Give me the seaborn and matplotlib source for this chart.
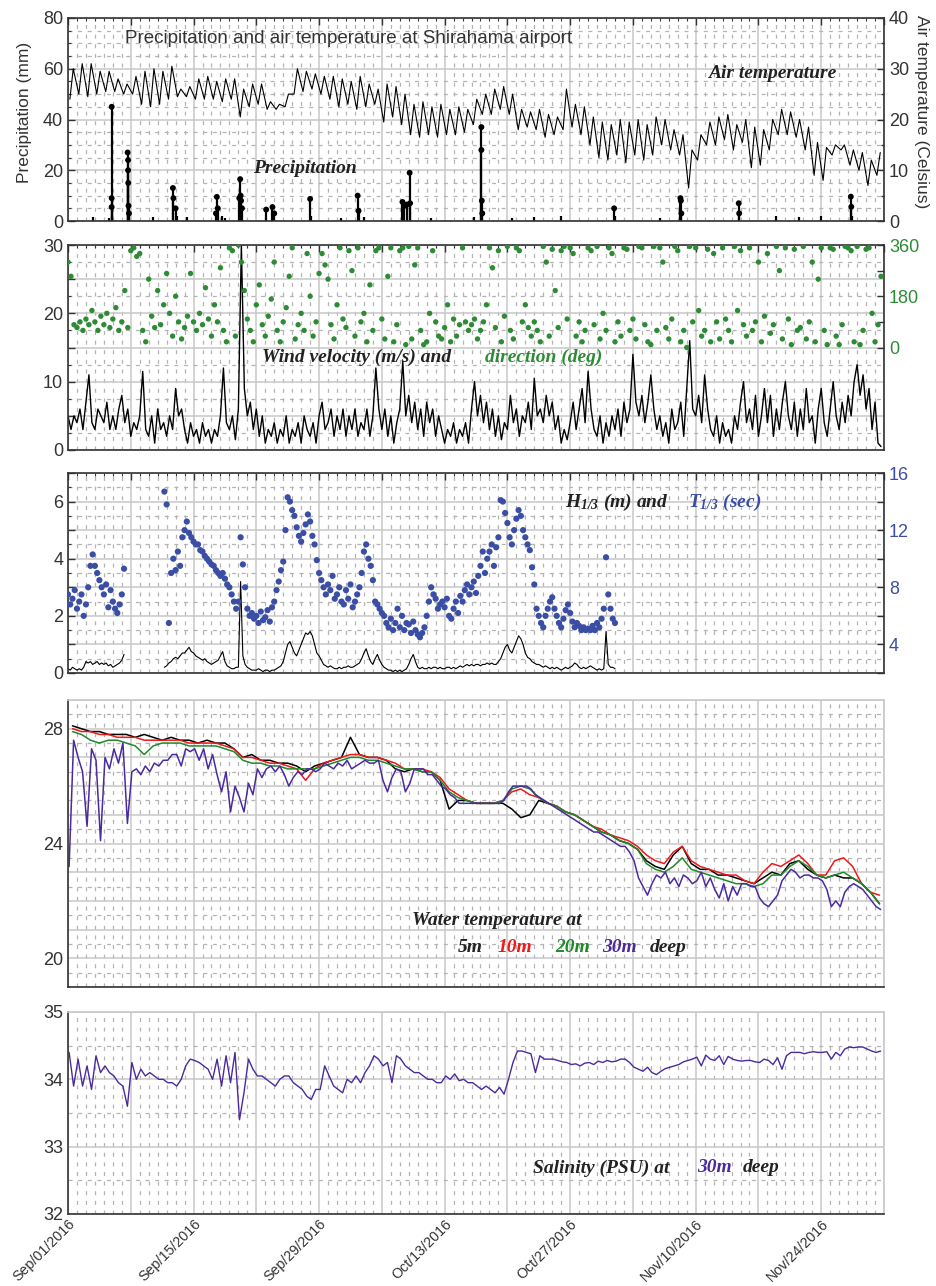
import numpy as np
import pandas as pd
import seaborn as sns
import matplotlib.pyplot as plt
import matplotlib.dates as mdates
from matplotlib.ticker import MultipleLocator, FuncFormatter, FixedLocator

sns.set_theme(style="white")
plt.rcParams['font.family'] = ['Liberation Sans', 'DejaVu Sans']
plt.rcParams['mathtext.fontset'] = 'custom'
plt.rcParams['mathtext.it'] = 'Liberation Serif:italic:bold'
plt.rcParams['mathtext.rm'] = 'Liberation Serif:italic:bold'

# ---------------- data ----------------
start = pd.Timestamp("2016-09-01")
n_days = 91

# air temperature, daily max / min (Celsius)
air_tmax = [30, 31, 31, 29.5, 29.5, 28, 27, 28.5, 29.5, 30,
            29.5, 30.5, 26, 26.5, 28, 28.5, 27.5, 28, 28, 26,
            27, 27, 23.5, 23, 25, 30, 29.5, 29, 28.5, 28.5,
            28, 27.5, 28.5, 27, 26, 27, 26.5, 25, 23, 23.5,
            22.5, 23, 22, 22.5, 22, 24, 25, 26, 26.5, 25,
            22, 21.5, 22, 21, 20.5, 26, 23, 22.5, 20.5, 19.5,
            19, 20, 19.5, 20, 19, 20.5, 20, 18, 17, 14,
            17, 19.5, 20.5, 21, 19, 20, 18.5, 18, 20, 22,
            21.5, 20, 18.5, 15.5, 14.5, 15, 15, 14, 13.5, 12,
            13.5]
air_tmin = [24, 25, 24.5, 25, 25.5, 25.5, 25, 25, 23, 22.5,
            23, 24, 24.5, 24.5, 24, 24, 24, 23.5, 24, 20.5,
            22.5, 23, 22, 22, 22.5, 25, 25.5, 26, 25, 24,
            22.5, 23, 22, 22.5, 23, 19.5, 20.5, 19, 17, 16.5,
            17, 16.5, 17, 17, 17.5, 19, 21, 21, 22, 21,
            18, 18.5, 18, 16.5, 17, 18, 18.5, 17, 15, 12.5,
            12, 13, 11.5, 13, 12, 13, 15, 14, 13, 6.5,
            12, 15, 15, 16, 14, 15.5, 10.5, 11, 14, 17,
            17, 16.5, 14, 9, 8, 13, 14, 11, 10, 7,
            9]

# precipitation readings: day since Sep 1, mm
precip_day = [2.8, 4.6, 4.87, 4.87, 4.87, 4.9, 6.65, 6.7, 6.7, 6.72, 6.75, 6.8,
              9.5, 11.7, 11.75, 12.0, 12.2, 13.3, 16.5, 16.6, 16.7, 17.2, 17.5,
              19.1, 19.2, 19.25, 19.3, 19.4, 22.1, 22.8, 23.0, 27.0, 27.1, 30.5,
              32.3, 32.4, 33.0, 37.3, 37.5, 37.8, 38.1, 38.15, 40.5, 45.3, 46.1,
              46.1, 46.15, 46.2, 49.5, 52.0, 55.0, 60.9, 61.0, 66.0, 68.3, 68.35,
              68.4, 74.8, 74.85, 79.0, 81.5, 84.0, 87.3, 87.35, 87.4]
precip_mm = [1.5, 1, 45, 9, 5.5, 2, 27, 24, 20, 15, 6, 3,
             1.5, 13, 9, 5, 2, 1.5, 3, 9.5, 5, 2, 1,
             9, 16.5, 10, 8, 5, 4.5, 5.5, 3, 8.7, 2, 1,
             10, 4, 1.5, 7.5, 6, 6.5, 19, 7, 1, 1.5, 37,
             28, 8, 3, 1, 1.5, 2, 5, 2, 1, 9, 8,
             3, 7, 3, 2, 1.5, 2, 9.6, 5.6, 2]

# wind velocity (m/s), three readings a day
wind_speed = [5, 3, 5, 4, 6, 3, 7, 11, 4, 3, 6, 5, 4, 7, 3, 5, 3, 6, 8, 4, 6, 2, 4, 3, 5, 11.5, 3, 2, 5, 1,
              6, 3, 4, 2, 5, 3, 9, 5, 6, 3, 1, 4, 2, 3, 1, 4, 2, 3, 1, 3, 2, 5, 12, 4, 3, 5, 1.5, 6, 30, 9,
              5, 7, 3, 6, 2, 5, 1, 3, 2, 4, 1, 3, 2, 5, 1, 3, 2, 4, 1, 5, 3, 2, 4, 1, 5, 7, 3, 4, 6, 2,
              5, 3, 6, 2, 5, 3, 6, 2, 4, 3, 6, 2, 5, 12, 6, 3, 6, 2, 5, 1, 4, 6, 13, 5, 8, 4, 7, 3, 6, 2,
              7, 4, 6, 2, 5, 3, 1, 3, 2, 4, 1, 3, 2, 4, 1, 6, 10, 5, 8, 4, 7, 3, 6, 2, 5, 1.5, 4, 3, 8, 4,
              6, 2, 5, 4, 7, 3, 10.5, 5, 6, 4, 8, 5, 7, 3, 5, 1, 3, 1.5, 4, 7, 3, 6, 9, 4, 11.5, 6, 3, 2, 5, 1,
              4, 2, 5, 3, 6, 2, 7, 4, 6, 14, 7, 5, 8, 4, 7, 11, 6, 3, 5, 2, 4, 1, 6, 3, 4, 7, 2, 9, 16, 6,
              5, 8, 4, 11, 6, 3, 2, 5, 1, 4, 2, 3, 1, 5, 3, 7, 10, 4, 6, 3, 8, 2, 5, 9, 4, 8, 2, 6, 3, 7,
              10, 5, 3, 7, 2, 6, 3, 9, 4, 5, 1, 6, 9, 4, 2, 6, 10, 5, 3, 7, 4, 8, 5, 10, 12.5, 8, 11, 6, 9, 3,
              7, 1, 0.5]
# wind direction (deg), three readings a day
wind_dir = [300, 250, 80, 70, 90, 60, 100, 80, 130, 90, 60, 110, 80, 120, 70, 100, 140, 60, 90, 200, 70,
            340, 350, 320, 330, 60, 20, 240, 110, 70,
            200, 80, 150, 260, 120, 40, 180, 90, 30, 70, 110, 260, 90, 60, 120, 80, 210, 100, 40, 150, 90,
            280, 60, 20, 350, 340, 40, 360, 300, 200,
            100, 60, 20, 150, 220, 80, 40, 110, 170, 300, 60, 20, 90, 140, 250, 350, 30, 80, 120, 60, 330,
            180, 40, 90, 260, 330, 290, 240, 80, 30,
            150, 350, 100, 70, 340, 270, 40, 350, 90, 120, 20, 220, 60, 340, 350, 100, 30, 250, 350, 20, 80,
            340, 350, 10, 355, 30, 290, 350, 60, 10,
            20, 120, 340, 90, 40, 30, 70, 150, 20, 100, 40, 80, 350, 90, 60, 80, 100, 30, 60, 90, 150,
            350, 280, 70, 340, 20, 110, 355, 60, 30,
            350, 340, 90, 150, 70, 40, 90, 60, 20, 355, 300, 40, 345, 200, 70, 340, 355, 100, 350, 330, 40,
            90, 20, 60, 350, 340, 80, 355, 30, 120,
            60, 350, 330, 20, 90, 40, 350, 345, 60, 100, 30, 355, 350, 80, 20, 10, 355, 60, 350, 300, 70,
            30, 100, 355, 340, 20, 60, 0, 355, 90,
            350, 130, 40, 60, 345, 20, 330, 90, 30, 350, 100, 60, 20, 355, 130, 340, 80, 40, 350, 60, 90,
            300, 20, 110, 330, 50, 80, 355, 270, 30,
            350, 100, 10, 345, 60, 70, 355, 30, 90, 300, 20, 240, 350, 60, 10, 350, 345, 40, 10, 80, 355,
            350, 340, 20, 355, 10, 60, 345, 350, 120,
            20, 80, 250]

# significant wave height (m) and period (s), every 6 h, two records
wave_a_H = [0.15, 0.1, 0.2, 0.15, 0.1, 0.15, 0.1, 0.2, 0.4, 0.35, 0.4, 0.3, 0.35, 0.4, 0.3, 0.35,
            0.3, 0.35, 0.25, 0.3, 0.2, 0.25, 0.3, 0.35, 0.45, 0.65]
wave_a_T = [7.5, 6.8, 7.2, 7.8, 6.5, 7.0, 7.5, 6.0, 6.8, 8.0, 9.5, 10.3, 9.5, 9.0, 8.5, 8.0,
            7.5, 8.2, 6.6, 7.8, 7.0, 6.5, 6.2, 6.8, 7.5, 9.3]
wave_b_H = [0.2,
            0.25, 0.35, 0.4, 0.5, 0.55, 0.5, 0.6, 0.7, 0.7, 0.8, 0.9, 0.75, 0.7, 0.6, 0.55, 0.5,
            0.45, 0.5, 0.4, 0.35, 0.3, 0.35, 0.4, 0.45, 0.6, 0.75, 0.4, 0.25, 0.2, 0.15, 0.15, 0.2,
            0.2, 3.2, 0.6, 0.3, 0.2, 0.15, 0.1, 0.1, 0.1, 0.15, 0.1, 0.05, 0.1, 0.1, 0.05, 0.1,
            0.1, 0.15, 0.2, 0.25, 0.4, 0.7, 1.0, 1.1, 0.9, 0.7, 0.6, 0.8, 1.0, 1.2, 1.4, 1.35,
            1.45, 1.3, 1.0, 0.7, 0.6, 0.45, 0.3, 0.25, 0.2, 0.25, 0.2, 0.15, 0.15, 0.2, 0.15, 0.2,
            0.2, 0.25, 0.2, 0.2, 0.25, 0.3, 0.35, 0.5, 0.7, 0.85, 0.6, 0.4, 0.3, 0.5, 0.65, 0.45,
            0.3, 0.2, 0.15, 0.1, 0.1, 0.05, 0.1, 0.05, 0.1, 0.05, 0.1, 0.15, 0.3, 0.5, 0.65, 0.4,
            0.2, 0.15, 0.2, 0.15, 0.15, 0.2, 0.15, 0.2, 0.2, 0.15, 0.2, 0.15, 0.15, 0.2, 0.2, 0.15,
            0.2, 0.15, 0.2, 0.25, 0.2, 0.25, 0.3, 0.25, 0.3, 0.25, 0.3, 0.3, 0.25, 0.3, 0.3, 0.35,
            0.3, 0.35, 0.3, 0.3, 0.4, 0.5, 0.7, 0.9, 1.0, 0.8, 0.7, 0.9, 1.1, 1.3, 1.2, 1.0,
            0.7, 0.55, 0.5, 0.4, 0.35, 0.3, 0.3, 0.25, 0.2, 0.25, 0.2, 0.15, 0.2, 0.15, 0.2, 0.15,
            0.1, 0.15, 0.2, 0.15, 0.2, 0.25, 0.35, 0.3, 0.2, 0.15, 0.2, 0.15, 0.2, 0.25, 0.2, 0.15,
            0.1, 0.15, 0.1, 0.15, 1.45, 0.3, 0.2, 0.2,
            0.15]
wave_b_T = [14.7,
            13.8, 5.5, 9.0, 10.0, 9.2, 10.5, 9.5, 11.5, 12.0, 12.6, 11.8, 11.5, 11.2, 11.0, 11.0, 10.6,
            10.5, 10.2, 10.0, 9.8, 9.6, 9.5, 9.2, 9.0, 8.8, 9.0, 8.6, 8.2, 8.0, 7.5, 7.0, 6.5,
            7.0, 11.5, 9.6, 8.0, 6.5, 6.0, 6.2, 5.8, 6.0, 5.5, 6.3, 5.7, 5.9, 6.4, 5.6, 6.6,
            7.0, 7.8, 8.4, 9.2, 9.8, 12.0, 14.3, 14.0, 13.4, 13.0, 12.2, 11.6, 11.2, 11.8, 12.4, 13.1,
            12.6, 11.6, 11.0, 9.9, 9.0, 8.5, 8.0, 7.5, 8.2, 7.8, 8.8, 7.2, 7.5, 8.0, 7.0, 6.8,
            7.8, 7.2, 8.2, 6.6, 7.0, 7.5, 8.0, 9.0, 10.5, 11.0, 10.0, 9.5, 8.5, 7.0, 6.8, 6.5,
            6.2, 6.0, 5.5, 5.2, 5.8, 5.0, 5.5, 6.5, 5.2, 6.0, 5.0, 5.5, 5.4, 4.8, 5.6, 5.0,
            4.7, 4.5, 4.8, 5.2, 6.0, 7.0, 8.0, 7.5, 7.2, 6.5, 6.8, 7.0, 6.6, 7.2, 6.0, 5.8,
            6.5, 7.0, 6.2, 7.4, 7.0, 7.8, 8.2, 7.5, 8.0, 8.4, 7.6, 8.8, 9.5, 10.5, 9.0, 10.0,
            10.5, 11.0, 9.5, 10.8, 11.5, 14.1, 14.0, 13.2, 12.5, 11.5, 11.0, 12.0, 12.8, 13.4, 13.0, 12.0,
            11.5, 11.0, 10.6, 9.4, 8.2, 6.5, 6.0, 5.5, 5.2, 6.0, 6.5, 7.0, 7.3, 6.5, 6.0, 5.5,
            5.2, 5.8, 6.4, 6.8, 6.2, 5.6, 5.2, 5.5, 5.3, 5.0, 5.2, 5.0, 5.1, 5.0, 5.3, 5.0,
            5.5, 5.2, 5.8, 6.5, 10.1, 7.5, 6.5, 5.8,
            5.5]

# water temperature (C): daily at 5, 10, 20 m; twice a day at 30 m
wt_5m = [28.1, 28.0, 27.9, 27.9, 27.8, 27.8, 27.8, 27.7, 27.8, 27.7,
         27.6, 27.7, 27.6, 27.6, 27.5, 27.6, 27.5, 27.5, 27.3, 27.0,
         27.1, 26.9, 26.9, 26.8, 26.8, 26.7, 26.5, 26.7, 26.8, 26.9,
         27.0, 27.7, 27.1, 27.0, 27.0, 26.9, 26.6, 26.5, 26.6, 26.5,
         26.5, 26.2, 25.2, 25.5, 25.5, 25.4, 25.4, 25.4, 25.4, 25.2,
         24.9, 25.0, 25.5, 25.4, 25.3, 25.1, 25.0, 24.8, 24.6, 24.4,
         24.3, 24.1, 24.0, 23.8, 23.4, 23.2, 23.1, 23.6, 23.9, 23.3,
         23.1, 23.1, 22.9, 22.9, 22.8, 22.7, 22.6, 22.8, 23.0, 22.9,
         23.3, 23.4, 23.1, 22.9, 22.8, 22.9, 22.8, 22.8, 22.6, 22.3,
         21.9]
wt_10m = [28.0, 27.9, 27.9, 27.8, 27.8, 27.7, 27.7, 27.7, 27.6, 27.6,
          27.6, 27.6, 27.6, 27.5, 27.5, 27.5, 27.5, 27.4, 27.3, 27.0,
          27.0, 26.9, 26.8, 26.8, 26.7, 26.6, 26.2, 26.6, 26.8, 26.9,
          27.0, 27.1, 27.1, 27.0, 27.0, 26.9, 26.8, 26.6, 26.6, 26.6,
          26.5, 26.3, 25.9, 25.7, 25.5, 25.4, 25.4, 25.4, 25.5, 25.8,
          25.9, 25.7, 25.6, 25.4, 25.3, 25.1, 25.0, 24.8, 24.6, 24.5,
          24.3, 24.2, 24.1, 23.9, 23.6, 23.4, 23.3, 23.7, 23.9, 23.4,
          23.2, 23.1, 23.0, 22.9, 22.9, 22.7, 22.6, 23.0, 23.3, 23.2,
          23.4, 23.6, 23.3, 22.9, 22.9, 23.4, 23.5, 23.2, 22.6, 22.3,
          22.2]
wt_20m = [27.9, 27.8, 27.6, 27.5, 27.6, 27.6, 27.5, 27.4, 27.1, 27.4,
          27.5, 27.5, 27.5, 27.4, 27.4, 27.4, 27.4, 27.3, 27.2, 26.9,
          26.8, 26.8, 26.7, 26.7, 26.6, 26.6, 26.6, 26.6, 26.7, 26.8,
          26.9, 27.0, 27.0, 26.9, 26.9, 26.8, 26.7, 26.6, 26.6, 26.5,
          26.5, 26.2, 25.8, 25.6, 25.5, 25.4, 25.4, 25.4, 25.5, 25.9,
          26.0, 25.9, 25.6, 25.4, 25.3, 25.1, 25.0, 24.8, 24.6, 24.4,
          24.3, 24.1, 24.0, 23.8, 23.3, 23.1, 23.0, 23.2, 23.5, 23.1,
          23.0, 22.9, 22.8, 22.7, 22.6, 22.6, 22.5, 22.6, 22.9, 22.9,
          23.2, 23.4, 23.2, 22.9, 22.8, 22.9, 23.0, 22.8, 22.6, 22.3,
          21.9]
wt_30m = [23.2, 27.6, 27.0, 26.5, 24.6, 27.3, 26.9, 24.1, 27.0, 26.6,
          27.3, 26.8, 27.5, 24.7, 26.5, 26.6, 26.4, 26.7, 26.5, 26.8,
          26.7, 26.9, 26.9, 27.1, 27.1, 26.7, 27.3, 27.2, 27.3, 26.9,
          27.3, 26.6, 27.1, 26.4, 25.8, 26.5, 25.1, 26.0, 25.6, 25.1,
          26.1, 25.7, 26.6, 26.3, 26.6, 26.7, 26.5, 26.7, 26.4, 26.0,
          26.3, 26.5, 26.4, 26.6, 26.6, 26.5, 26.6, 26.8, 26.7, 26.6,
          26.8, 26.7, 26.9, 26.6, 26.7, 26.8, 26.9, 26.8, 26.8, 26.9,
          26.2, 25.8, 26.3, 26.6, 26.5, 25.8, 26.1, 26.6, 26.6, 26.6,
          26.4, 26.4, 26.2, 26.0, 25.9, 25.7, 25.6, 25.4, 25.4, 25.4,
          25.4, 25.4, 25.4, 25.4, 25.4, 25.4, 25.4, 25.5, 25.8, 26.0,
          26.0, 26.0, 26.0, 25.9, 25.7, 25.6, 25.5, 25.4, 25.3, 25.2,
          25.1, 25.0, 24.9, 24.8, 24.7, 24.6, 24.5, 24.4, 24.4, 24.3,
          24.2, 24.1, 24.0, 23.9, 23.9, 23.7, 23.4, 22.8, 22.5, 22.2,
          22.6, 22.9, 22.8, 23.0, 22.6, 22.8, 22.5, 22.9, 22.8, 22.6,
          22.7, 23.0, 22.5, 22.8, 22.4, 22.1, 22.6, 22.0, 22.5, 22.2,
          22.6, 22.6, 22.5, 22.5, 22.1, 21.9, 21.8, 22.0, 22.2, 22.7,
          22.9, 23.1, 23.0, 22.8, 22.9, 22.9, 22.8, 22.8, 22.7, 22.4,
          21.8, 22.0, 21.8, 22.3, 22.5, 22.6, 22.5, 22.4, 22.2, 22.0,
          21.8, 21.7]

# salinity (PSU) at 30 m, twice a day
salinity = [34.4, 33.9, 34.3, 33.9, 34.2, 33.85, 34.35, 34.1, 34.2, 34.1,
            34.05, 33.95, 33.9, 33.6, 34.25, 34.0, 34.15, 34.05, 34.1, 34.05,
            34.0, 34.0, 33.95, 33.95, 33.9, 34.0, 34.2, 34.3, 34.28, 34.25,
            34.2, 34.15, 34.0, 34.3, 33.9, 34.35, 33.95, 34.4, 33.4, 33.8,
            34.3, 34.15, 34.05, 34.05, 34.0, 33.95, 33.9, 34.0, 34.05, 34.05,
            33.95, 33.9, 33.85, 33.75, 33.7, 33.85, 33.85, 34.2, 34.05, 33.9,
            33.85, 33.8, 34.0, 33.95, 34.05, 33.95, 34.1, 34.2, 34.35, 34.3,
            34.2, 34.25, 33.95, 34.35, 34.3, 34.2, 34.15, 34.1, 34.1, 34.05,
            34.0, 34.0, 33.95, 33.95, 34.05, 34.0, 34.08, 33.98, 34.0, 33.95,
            33.95, 33.9, 33.85, 33.9, 33.85, 33.8, 33.88, 33.78, 34.0, 34.25,
            34.42, 34.42, 34.4, 34.38, 34.1, 34.35, 34.3, 34.3, 34.3, 34.28,
            34.26, 34.25, 34.22, 34.23, 34.2, 34.24, 34.25, 34.22, 34.27, 34.25,
            34.28, 34.26, 34.27, 34.3, 34.3, 34.25, 34.18, 34.15, 34.12, 34.18,
            34.1, 34.07, 34.12, 34.16, 34.18, 34.2, 34.22, 34.26, 34.28, 34.3,
            34.33, 34.2, 34.36, 34.3, 34.28, 34.35, 34.22, 34.34, 34.3, 34.28,
            34.27, 34.28, 34.28, 34.26, 34.25, 34.3, 34.28, 34.22, 34.32, 34.15,
            34.35, 34.4, 34.4, 34.4, 34.38, 34.4, 34.41, 34.4, 34.4, 34.41,
            34.3, 34.4, 34.35, 34.45, 34.48, 34.47, 34.48, 34.48, 34.45, 34.42,
            34.4, 34.42]

# ---------------- time axes ----------------
def tnum(times):
    return mdates.date2num(pd.DatetimeIndex(times).to_pydatetime())

days = pd.to_timedelta(np.repeat(np.arange(n_days), 2), unit="D")
t_air = tnum(start + days + pd.to_timedelta(np.tile([5, 14], n_days), unit="h"))
air_temp = np.column_stack([air_tmin, air_tmax]).ravel()
t_precip = tnum(start + pd.to_timedelta(precip_day, unit="D"))
t_8h = tnum(pd.date_range(start, periods=len(wind_speed), freq="8h"))
t_wave_a = tnum(pd.date_range(start, periods=len(wave_a_H), freq="6h"))
t_wave_b = tnum(pd.date_range(start + pd.Timedelta("10D 18h"), periods=len(wave_b_H), freq="6h"))
t_day = tnum(pd.date_range(start + pd.Timedelta("12h"), periods=n_days, freq="D"))
t_12h = tnum(pd.date_range(start + pd.Timedelta("3h"), periods=len(wt_30m), freq="12h"))

x0 = mdates.date2num(start.to_pydatetime())
x1 = mdates.date2num((start + pd.Timedelta(days=n_days)).to_pydatetime())
week_ticks = tnum(pd.date_range(start, periods=14, freq="7D"))

GRID = "#c8c8c8"
MINOR = "#b4b4b4"
DARK = "#333333"
GREEN = "#2e8b35"
BLUE = "#3b4ea6"
PURPLE = "#4a2a9c"
RED = "#f01818"
SERIF = dict(family="Liberation Serif", weight="bold", style="italic", fontsize=14)


def label_every(step):
    return FuncFormatter(lambda v, p: f"{v:g}" if abs(v / step - round(v / step)) < 1e-6 else "")


def style_axis(ax, ylim, ystep, ylab, yminor, box=True):
    ax.set_xlim(x0, x1)
    ax.set_ylim(*ylim)
    ax.yaxis.set_major_locator(MultipleLocator(ystep))
    ax.yaxis.set_major_formatter(label_every(ylab))
    ax.yaxis.set_minor_locator(MultipleLocator(yminor))
    ax.xaxis.set_major_locator(FixedLocator(week_ticks))
    ax.xaxis.set_minor_locator(mdates.DayLocator())
    ax.grid(True, which="major", color=GRID, lw=1.1, ls="-")
    ax.grid(True, which="minor", color=MINOR, lw=0.9, ls=(0, (3.2, 4.5)))
    ax.set_axisbelow(True)
    ax.tick_params(which="both", direction="in", top=box, right=False, colors=DARK,
                   labelsize=13, labelcolor=DARK, labelbottom=False)
    ax.tick_params(which="major", length=5, width=1)
    ax.tick_params(which="minor", length=2.5, width=0.8)
    for side, sp in ax.spines.items():
        sp.set_linewidth(1.2)
        sp.set_color(DARK if (box or side in ("left", "bottom")) else GRID)
    ax.set_xlabel("")
    ax.set_ylabel("")


def style_twin(ax, ylim, ticks, labels, color):
    ax.set_ylim(*ylim)
    ax.yaxis.set_major_locator(FixedLocator(ticks))
    ax.yaxis.set_major_formatter(FuncFormatter(lambda v, p: labels.get(round(v), "")))
    ax.tick_params(axis="y", direction="in", length=5, width=1, colors=DARK,
                   labelsize=13, labelcolor=color)
    ax.grid(False)
    ax.set_ylabel("")
    for sp in ax.spines.values():
        sp.set_visible(False)


W, H = 937, 1286
fig = plt.figure(figsize=(W / 100, H / 100), dpi=100)


def panel(top, bottom, share=None):
    return fig.add_axes([68 / W, 1 - bottom / H, 816 / W, (bottom - top) / H], sharex=share)


ax1 = panel(18, 221)
ax2 = panel(245, 450, ax1)
ax3 = panel(473, 673, ax1)
ax4 = panel(700, 987, ax1)
ax5 = panel(1012, 1214, ax1)

# ---- panel 1: precipitation and air temperature
precip_day_arr = np.asarray(t_precip)
precip_mm_arr = np.asarray(precip_mm)
ax1.vlines(precip_day_arr, 0, precip_mm_arr, color="black", lw=1.6)
big = precip_mm_arr >= 3
sns.scatterplot(x=precip_day_arr[big], y=precip_mm_arr[big], ax=ax1, color="black", s=18,
                edgecolor="none")
style_axis(ax1, (0, 80), 20, 20, 5)
ax1t = ax1.twinx()
sns.lineplot(x=t_air, y=air_temp, ax=ax1t, color="black", lw=0.8, sort=False, estimator=None)
style_twin(ax1t, (0, 40), [0, 10, 20, 30, 40], {0: "0", 10: "10", 20: "20", 30: "30", 40: "40"}, DARK)
ax1t.yaxis.set_minor_locator(MultipleLocator(5))
ax1t.tick_params(axis="y", which="minor", direction="in", length=2.5, colors=DARK)
ax1.text(0.07, 0.90, "Precipitation and air temperature at Shirahama airport",
         transform=ax1.transAxes, fontsize=13.5, color=DARK, va="center", ha="left")
ax1.text(0.784, 0.729, "Air temperature", transform=ax1.transAxes, va="center", ha="left",
         color="#222222", **SERIF)
ax1.text(0.227, 0.261, "Precipitation", transform=ax1.transAxes, va="center", ha="left",
         color="#222222", **SERIF)
fig.text(25 / W, 1 - 112 / H, "Precipitation (mm)", rotation=90, ha="center", va="center",
         fontsize=12.5, color=DARK)
fig.text(922 / W, 1 - 112 / H, "Air temperature (Celsius)", rotation=270, ha="center",
         va="center", fontsize=12.5, color=DARK)

# ---- panel 2: wind
sns.lineplot(x=t_8h, y=wind_speed, ax=ax2, color="black", lw=1.0, sort=False, estimator=None)
style_axis(ax2, (0, 30), 5, 10, 2.5)
ax2t = ax2.twinx()
sns.scatterplot(x=t_8h, y=wind_dir, ax=ax2t, color=GREEN, s=15, edgecolor="none")
style_twin(ax2t, (-360, 360), [0, 90, 180, 270, 360], {0: "0", 180: "180", 360: "360"}, GREEN)
ax2.text(0.238, 0.454, "Wind velocity (m/s) and", transform=ax2.transAxes, va="center",
         ha="left", color="#222222", **SERIF)
ax2.text(0.511, 0.454, "direction (deg)", transform=ax2.transAxes, va="center", ha="left",
         color=GREEN, **SERIF)

# ---- panel 3: waves
for tt, hh in ((t_wave_a, wave_a_H), (t_wave_b, wave_b_H)):
    sns.lineplot(x=tt, y=hh, ax=ax3, color="black", lw=0.8, sort=False, estimator=None)
style_axis(ax3, (0, 7), 1, 2, 0.5)
ax3t = ax3.twinx()
for tt, pp in ((t_wave_a, wave_a_T), (t_wave_b, wave_b_T)):
    sns.scatterplot(x=tt, y=pp, ax=ax3t, color=BLUE, s=20, edgecolor="none")
style_twin(ax3t, (2, 16), [2, 4, 6, 8, 10, 12, 14, 16], {4: "4", 8: "8", 12: "12", 16: "16"}, BLUE)
ax3.text(0.609, 0.855, r"$H_{1/3}$ (m) and", transform=ax3.transAxes, va="center", ha="left",
         color="#222222", **SERIF)
ax3.text(0.760, 0.855, r"$T_{1/3}$ (sec)", transform=ax3.transAxes, va="center", ha="left",
         color=BLUE, **SERIF)

# ---- panel 4: water temperature
sns.lineplot(x=t_day, y=wt_5m, ax=ax4, color="black", lw=1.1, sort=False, estimator=None)
sns.lineplot(x=t_day, y=wt_10m, ax=ax4, color=RED, lw=1.1, sort=False, estimator=None)
sns.lineplot(x=t_day, y=wt_20m, ax=ax4, color="#1f8a2a", lw=1.1, sort=False, estimator=None)
sns.lineplot(x=t_12h, y=wt_30m, ax=ax4, color=PURPLE, lw=1.1, sort=False, estimator=None)
style_axis(ax4, (19, 29), 1, 4, 0.5, box=False)
ax4.text(0.4216, 0.233, "Water temperature at", transform=ax4.transAxes, va="center",
         ha="left", color="#222222", **SERIF)
for xf, word, col in ((0.478, "5m", "#222222"), (0.527, "10m", RED), (0.597, "20m", "#1f8a2a"),
                      (0.654, "30m", PURPLE), (0.713, "deep", "#222222")):
    ax4.text(xf, 0.139, word, transform=ax4.transAxes, va="center", ha="left", color=col, **SERIF)

# ---- panel 5: salinity
sns.lineplot(x=t_12h, y=salinity, ax=ax5, color=PURPLE, lw=1.0, sort=False, estimator=None)
style_axis(ax5, (32, 35), 1, 1, 0.5, box=False)
ax5.text(0.570, 0.228, "Salinity (PSU) at", transform=ax5.transAxes, va="center", ha="left",
         color="#222222", **SERIF)
ax5.text(0.771, 0.228, "30m", transform=ax5.transAxes, va="center", ha="left", color=PURPLE, **SERIF)
ax5.text(0.827, 0.228, "deep", transform=ax5.transAxes, va="center", ha="left",
         color="#222222", **SERIF)


def date_label(v, p):
    d = mdates.num2date(v).replace(tzinfo=None)
    if (pd.Timestamp(d) - start).days % 14 == 0:
        return d.strftime("%b/%d/%Y")
    return ""


ax5.xaxis.set_major_formatter(FuncFormatter(date_label))
ax5.tick_params(axis="x", labelbottom=True, labelsize=10.3, pad=2)
ax5.set_xlim(x0, x1)
plt.setp(ax5.get_xticklabels(), rotation=45, ha="right", rotation_mode="anchor")

fig.savefig("out.png", dpi=100)
